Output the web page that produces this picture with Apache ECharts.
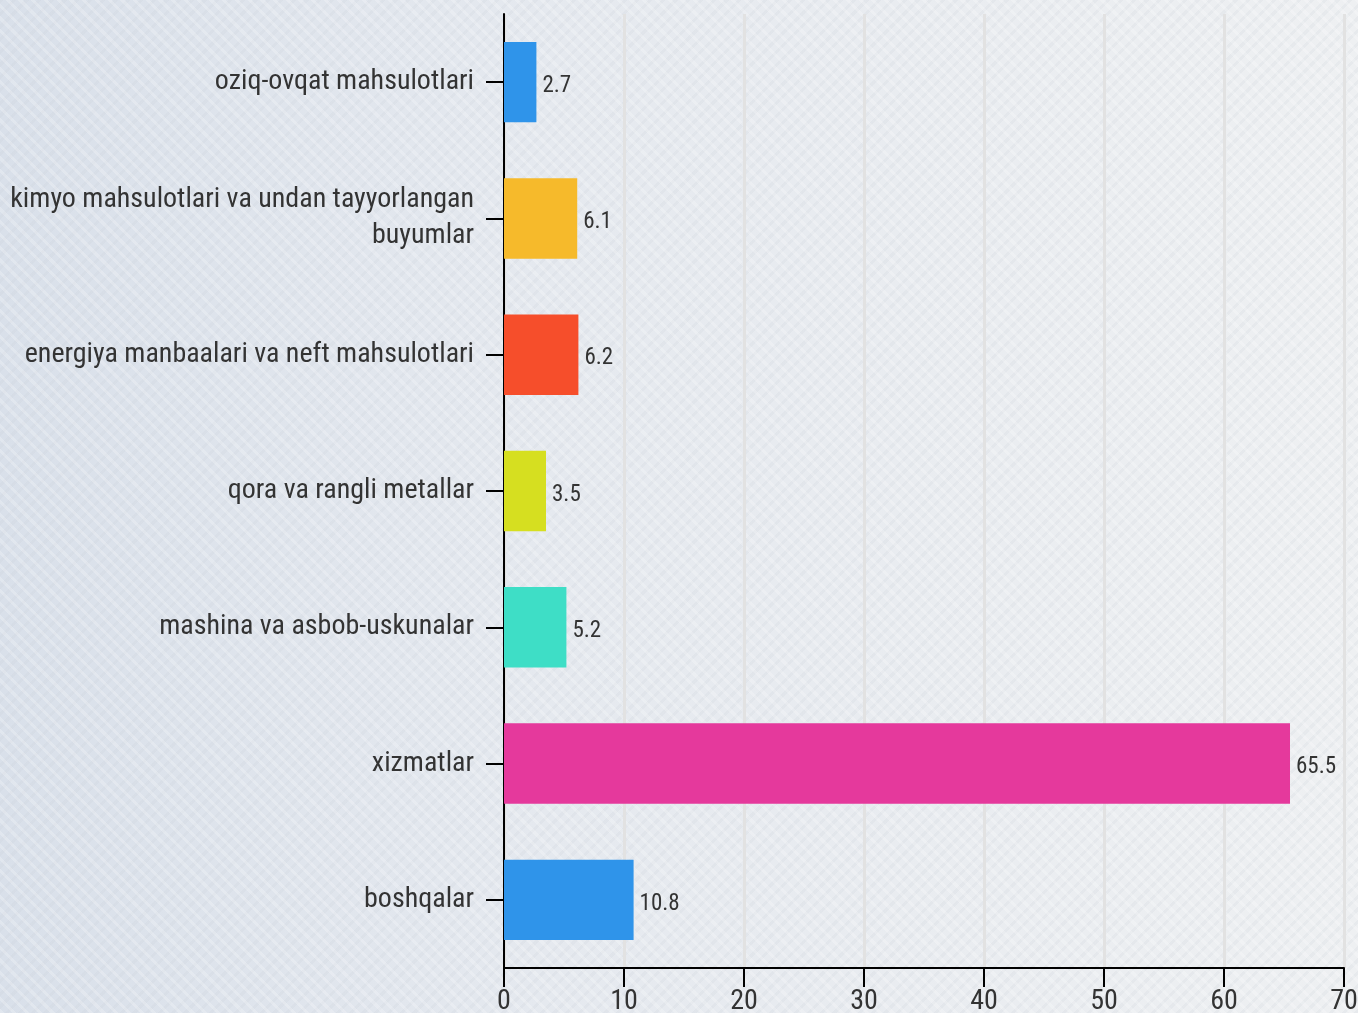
<!DOCTYPE html>
<html>
<head>
<meta charset="utf-8">
<script src="https://cdn.jsdelivr.net/npm/echarts@6/dist/echarts.min.js"></script>
<style>
  html, body { margin: 0; padding: 0; }
  body {
    width: 1358px; height: 1013px; overflow: hidden;
    background:
      repeating-linear-gradient(45deg, rgba(255,255,255,0.22) 0 3px, transparent 3px 9px),
      repeating-linear-gradient(-45deg, rgba(200,206,214,0.18) 0 3px, transparent 3px 9px),
      linear-gradient(90deg, #d9e0ea 0%, #e5e9ef 40%, #eef0f2 100%);
  }
  #chart { width: 1358px; height: 1013px; }
</style>
</head>
<body>
<div id="chart"></div>
<script>
const categories = [
  'oziq-ovqat mahsulotlari',
  'kimyo mahsulotlari va undan tayyorlangan\nbuyumlar',
  'energiya manbaalari va neft mahsulotlari',
  'qora va rangli metallar',
  'mashina va asbob-uskunalar',
  'xizmatlar',
  'boshqalar'
];
const values = [2.7, 6.1, 6.2, 3.5, 5.2, 65.5, 10.8];
const barColors = ['#2f94ea', '#f6ba2b', '#f64e2b', '#d6df20', '#3edec6', '#e5399c', '#2f94ea'];

const font = '"Roboto Condensed", "Liberation Sans Narrow", "DejaVu Sans Condensed", Roboto, sans-serif';

const chart = echarts.init(document.getElementById('chart'));
chart.setOption({
  backgroundColor: 'transparent',
  animation: false,
  grid: { left: 504, right: 14, top: 14, bottom: 45, containLabel: false, outerBoundsMode: 'none' },
  xAxis: {
    type: 'value',
    min: 0, max: 70, interval: 10,
    axisLine: { show: true, lineStyle: { color: '#000', width: 2 } },
    axisTick: { show: true, length: 19, lineStyle: { color: '#000', width: 2 } },
    axisLabel: { color: '#333', fontSize: 28, fontFamily: font, margin: 20 },
    splitLine: { show: true, lineStyle: { color: '#e2e2e2', width: 3 } }
  },
  yAxis: {
    type: 'category',
    inverse: true,
    data: categories,
    axisLine: { show: true, lineStyle: { color: '#000', width: 2 } },
    axisTick: { show: true, length: 18, alignWithLabel: true, lineStyle: { color: '#000', width: 2 } },
    axisLabel: { color: '#333', fontSize: 28, fontFamily: font, margin: 30, lineHeight: 36, align: 'right' },
    splitLine: { show: false }
  },
  series: [{
    type: 'bar',
    data: values.map((v, i) => ({ value: v, itemStyle: { color: barColors[i] } })),
    barCategoryGap: '41%',
    label: {
      show: true, position: 'right', distance: 6, offset: [0, 4],
      color: '#333', fontSize: 23, fontFamily: font
    }
  }]
});
</script>
</body>
</html>
